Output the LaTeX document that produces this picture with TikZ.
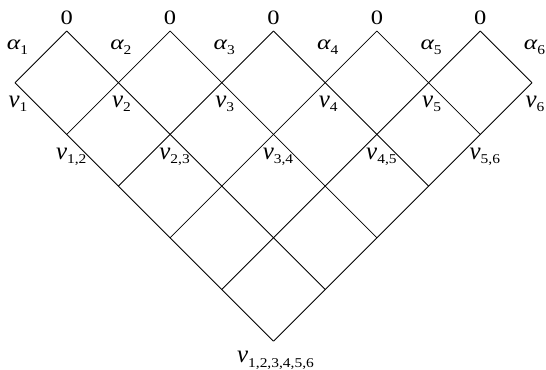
\documentclass[tikz,border=0pt]{standalone}
\usepackage{fontspec}
\setmainfont{Liberation Serif}
\newfontfamily\tms{Liberation Serif}
\usepackage{graphicx}
\newcommand{\subx}[1]{\raisebox{-4.5bp}{\scalebox{1.15}[1]{\tms\upshape\fontsize{13.5}{14}\selectfont #1}}}
\newcommand{\vlab}[1]{{\tms\itshape\fontsize{25}{25}\selectfont v}\subx{#1}}
\newcommand{\alab}[1]{\scalebox{1.25}[1]{\tms\itshape\fontsize{20.5}{20.5}\selectfont α}\subx{#1}}
\newcommand{\zlab}{\scalebox{1.2}[1]{\tms\upshape\fontsize{20.5}{20.5}\selectfont 0}}
\tikzset{
  grid/.style={line width=0.8bp, black},
  lab/.style={inner sep=0pt, outer sep=0pt, anchor=center, font=\tms}
}
\begin{document}
\begin{tikzpicture}[x=1bp,y=-1bp]
\useasboundingbox (0,0) rectangle (546,369);
\foreach \i in {0,...,10}{
  \foreach \j in {0,...,6}{
    \coordinate (p\i-\j) at ({15+51.7*\i},{31+51.7*\j});
  }
}
% down-right lines
\draw[grid] (p0-1) -- (p5-6);
\draw[grid] (p1-0) -- (p6-5);
\draw[grid] (p3-0) -- (p7-4);
\draw[grid] (p5-0) -- (p8-3);
\draw[grid] (p7-0) -- (p9-2);
\draw[grid] (p9-0) -- (p10-1);
% down-left lines
\draw[grid] (p1-0) -- (p0-1);
\draw[grid] (p3-0) -- (p1-2);
\draw[grid] (p5-0) -- (p2-3);
\draw[grid] (p7-0) -- (p3-4);
\draw[grid] (p9-0) -- (p4-5);
\draw[grid] (p10-1) -- (p5-6);
% zero labels
\foreach \k/\i in {1/1,2/3,3/5,4/7,5/9}{
  \path (p\i-0) ++(0,-12.8) node[lab] (z\k) {\zlab};
}
% alpha and v labels
\foreach \k/\i in {1/0,2/2,3/4,4/6,5/8,6/10}{
  \path (p\i-1) ++(2.5,-35.7) node[lab] (a\k) {\alab{\k}};
  \path (p\i-1) ++(3,21) node[lab] (v\k) {\vlab{\k}};
}
% pair labels
\foreach \k/\m/\i in {1/2/1,2/3/3,3/4/5,4/5/7,5/6/9}{
  \path (p\i-2) ++(4.5,22.5) node[lab] (w\k) {\vlab{\k,\m}};
}
\path (p5-6) ++(2,19) node[lab] (vall) {\vlab{1,2,3,4,5,6}};
\end{tikzpicture}
\end{document}
